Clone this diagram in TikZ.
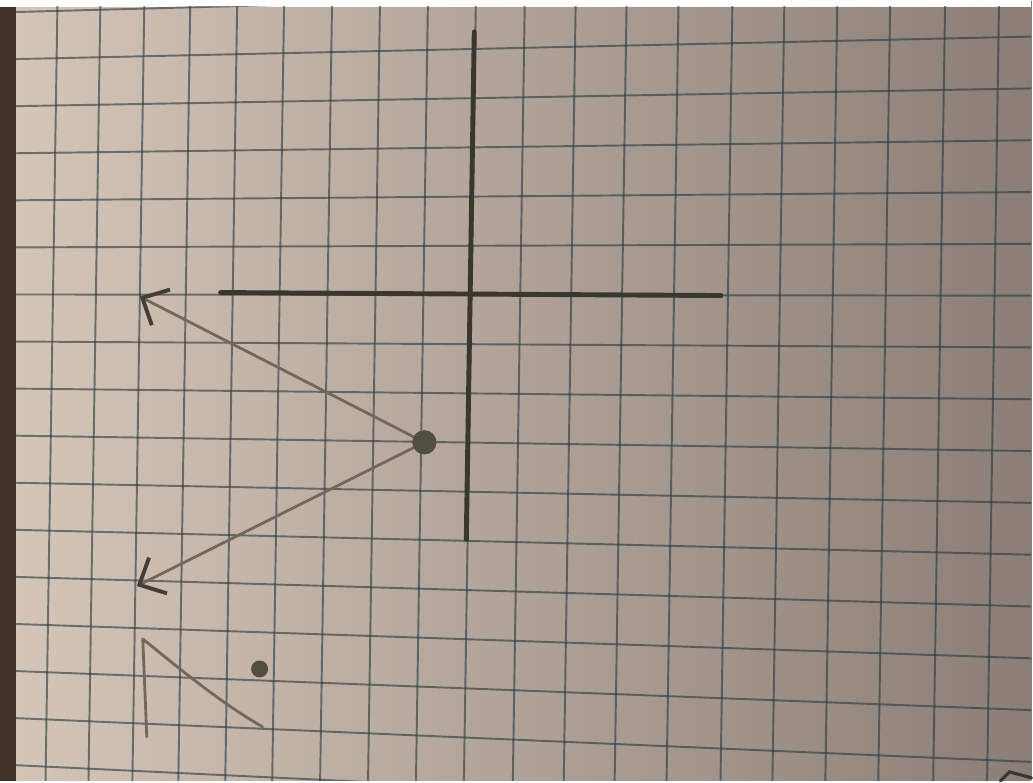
\documentclass[tikz,border=0pt]{standalone}
\usepackage{xcolor}
\usepackage{tikz}
\usetikzlibrary{arrows.meta}
\definecolor{paperlight}{RGB}{214,198,184}
\definecolor{paperdark}{RGB}{138,126,118}
\definecolor{gridblue}{RGB}{40,58,68}
\definecolor{pencil}{RGB}{58,54,48}
\definecolor{softpencil}{RGB}{112,103,93}
\definecolor{dotgray}{RGB}{82,79,66}
\definecolor{spine}{RGB}{64,50,40}

\begin{document}
\begin{tikzpicture}[
  x=0.02cm, y=-0.02cm,
  gridline/.style={gridblue, opacity=0.62, line width=1.1pt},
  axisline/.style={pencil, line width=2.8pt, line cap=round},
  sketch/.style={softpencil, line width=1.6pt, line cap=round, line join=round},
  arrow/.style={sketch, -{Straight Barb[length=4.2mm, width=8mm, line width=2.2pt, color=pencil!85!softpencil]}},
  pencildot/.style={circle, fill=dotgray, inner sep=0pt, minimum size=0.48cm}
]
% paper
\shade[left color=paperlight, right color=paperdark] (0,0) rectangle (1033,782);
\fill[white] (0,0) rectangle (1033,7);
\fill[spine] (0,7) rectangle (16,782);

% squared paper, slightly in perspective
\begin{scope}
  \clip (16,7) rectangle (1033,782);
  \foreach \k in {-6,...,10}
    \draw[gridline] (0,{294.9+47.07*\k}) -- (1033,{296.1+51.89*\k});
  \foreach \gx in {53,96,140,186,233,280,328,376,424,472,521,572,623,675,729,781,834,887,942,996}
    \draw[gridline] ({\gx+4.6},0) -- ({\gx-7.4},782);
\end{scope}

% axes
\coordinate (xl) at (221,293);
\coordinate (xr) at (722,296);
\coordinate (yt) at (475,32);
\coordinate (yb) at (467,540);
\draw[axisline] (xl) -- (xr);
\draw[axisline] (yt) -- (yb);

% point and its two arrows
\node[pencildot] (pt) at (425,443) {};
\coordinate (upTip) at (140,297);
\coordinate (downTip) at (137,587);
\draw[arrow] (pt.center) -- (upTip);
\draw[arrow] (pt.center) -- (downTip);
\node[pencildot] at (pt) {};

% corner sketch bottom left
\coordinate (apex) at (143,640);
\draw[sketch] (147,738) -- (apex) .. controls (178,668) and (218,702) .. (263,728);
\node[pencildot, minimum size=0.34cm] (spot) at (260,670) {};

% stray mark bottom right
\draw[pencil, line width=1.8pt, line cap=round] (1002,782) -- (1011,773) -- (1033,779);
\end{tikzpicture}
\end{document}
